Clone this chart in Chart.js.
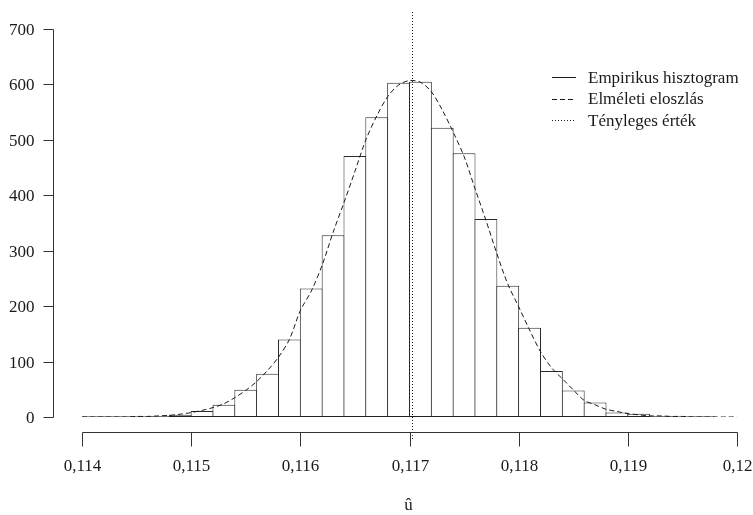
<!DOCTYPE html>
<html>
<head>
<meta charset="utf-8">
<script src="https://cdn.jsdelivr.net/npm/chart.js@4.4.0/dist/chart.umd.min.js"></script>
<style>
    html, body { margin: 0; padding: 0; background: #ffffff; }
    #wrap { width: 753px; height: 515px; position: relative; }
</style>
</head>
<body>
<div id="wrap"><canvas id="histChart"></canvas></div>
<script>
// histChart — simulated estimates of u-hat, histogram vs. theoretical density

/* ------------------------------
   DATA
--------------------------------*/
const binStart = 0.114;
const binWidth = 0.0002;
// counts per bin, 0.1140-0.1142, 0.1142-0.1144, ... up to 0.1198
const binCounts = [0, 0, 0, 1, 4, 11, 22, 49, 78, 140, 232, 328, 471, 541, 603,
                   605, 522, 476, 357, 237, 161, 83, 48, 26, 8, 6, 1, 0, 0];

// theoretical density (scaled to counts), read every 0.0001 from 0.1140 to 0.1200
const curveStart = 0.114;
const curveStep = 0.0001;
const curveValues = [0, 0, 0, 0, 0, 1, 1, 2, 3, 5,
                     8, 12, 17, 24, 35, 48, 64, 84, 108, 140,
                     192, 227, 274, 333, 387, 443, 500, 543, 578, 599,
                     607, 604, 587, 554, 514, 470, 412, 355, 295, 240,
                     199, 157, 118, 89, 69, 49, 30, 22, 14, 10,
                     6, 4, 2, 2, 1, 1, 0, 0, 0, 0, 0];

const trueValue = 0.11702;

const xTicks = [0.114, 0.115, 0.116, 0.117, 0.118, 0.119, 0.120];
const xTickLabels = ["0,114", "0,115", "0,116", "0,117", "0,118", "0,119", "0,12"];
const yTicks = [0, 100, 200, 300, 400, 500, 600, 700];
const xTitle = "\u00fb";

const legendLabels = ["Empirikus hisztogram", "Elméleti eloszlás", "Tényleges érték"];

/* ------------------------------
   build points for the library
--------------------------------*/
const barPoints = binCounts.map((c, i) => ({ x: binStart + (i + 0.5) * binWidth, y: c }));
const basePoints = [
    { x: binStart, y: 0 },
    { x: binStart + binCounts.length * binWidth, y: 0 }
];
const curvePoints = curveValues.map((v, i) => ({ x: curveStart + i * curveStep, y: v }));

const FONT = "17px 'Liberation Serif', 'DejaVu Serif', serif";
const INK = "#1a1a1a";

// R-style axes, detached from the plot region
const rAxesPlugin = {
    id: "rAxes",
    afterDatasetsDraw(chart) {
        const ctx = chart.ctx;
        const xs = chart.scales.x;
        // vertical dotted line at the true value
        const px = Math.round(xs.getPixelForValue(trueValue)) + 0.5;
        ctx.save();
        ctx.strokeStyle = INK;
        ctx.lineWidth = 1;
        ctx.setLineDash([1, 2]);
        ctx.beginPath();
        ctx.moveTo(px, 12);
        ctx.lineTo(px, 440);
        ctx.stroke();
        ctx.restore();
    },
    afterDraw(chart) {
        const ctx = chart.ctx;
        const xs = chart.scales.x;
        const ys = chart.scales.y;

        ctx.save();
        ctx.strokeStyle = "#333";
        ctx.fillStyle = INK;
        ctx.lineWidth = 1;
        ctx.font = FONT;

        // y axis
        const ax = 53.5;
        ctx.beginPath();
        ctx.moveTo(ax, Math.round(ys.getPixelForValue(yTicks[0])) + 0.5);
        ctx.lineTo(ax, Math.round(ys.getPixelForValue(yTicks[yTicks.length - 1])) + 0.5);
        ctx.stroke();
        ctx.textAlign = "right";
        ctx.textBaseline = "middle";
        yTicks.forEach(v => {
            const py = Math.round(ys.getPixelForValue(v)) + 0.5;
            ctx.beginPath();
            ctx.moveTo(ax, py);
            ctx.lineTo(ax - 10, py);
            ctx.stroke();
            ctx.fillText(String(v), ax - 19, py + 1);
        });

        // x axis
        const ay = 432.5;
        ctx.beginPath();
        ctx.moveTo(Math.round(xs.getPixelForValue(xTicks[0])) + 0.5, ay);
        ctx.lineTo(Math.round(xs.getPixelForValue(xTicks[xTicks.length - 1])) + 0.5, ay);
        ctx.stroke();
        ctx.textAlign = "center";
        ctx.textBaseline = "middle";
        xTicks.forEach((v, i) => {
            const px = Math.round(xs.getPixelForValue(v)) + 0.5;
            ctx.beginPath();
            ctx.moveTo(px, ay);
            ctx.lineTo(px, ay + 14);
            ctx.stroke();
            ctx.fillText(xTickLabels[i], px, 467);
        });
        ctx.fillText(xTitle, xs.getPixelForValue(0.117) - 1, 506);

        // legend
        const dashes = [[], [5, 3], [1, 2]];
        ctx.textAlign = "left";
        legendLabels.forEach((label, i) => {
            const ly = 77 + i * 21.5;
            ctx.setLineDash(dashes[i]);
            ctx.strokeStyle = INK;
            ctx.beginPath();
            ctx.moveTo(552, Math.round(ly) + 0.5);
            ctx.lineTo(576, Math.round(ly) + 0.5);
            ctx.stroke();
            ctx.setLineDash([]);
            ctx.fillText(label, 588, ly + 1.5);
        });
        ctx.restore();
    }
};

/* ------------------------------
   CHART
--------------------------------*/
const ctx = document.getElementById("histChart");

new Chart(ctx, {
    type: "bar",
    data: {
        datasets: [
            {
                type: "line",
                label: "Elméleti eloszlás",
                data: curvePoints,
                borderColor: INK,
                borderWidth: 1,
                borderDash: [5, 3],
                pointRadius: 0,
                tension: 0.3,
                order: 0
            },
            {
                type: "line",
                label: "baseline",
                data: basePoints,
                borderColor: INK,
                borderWidth: 1,
                pointRadius: 0,
                order: 1
            },
            {
                type: "bar",
                label: "Empirikus hisztogram",
                data: barPoints,
                backgroundColor: "#ffffff",
                borderColor: "#2a2a2a",
                borderWidth: 1,
                borderSkipped: false,
                barPercentage: 1.046,
                categoryPercentage: 1,
                order: 2
            }
        ]
    },
    options: {
        responsive: true,
        maintainAspectRatio: false,
        animation: false,
        layout: {
            padding: { left: 82, right: 16, top: 29, bottom: 98 }
        },
        plugins: {
            legend: { display: false },
            tooltip: { enabled: false }
        },
        scales: {
            x: { type: "linear", min: 0.114, max: 0.120, offset: false, display: false },
            y: { min: 0, max: 700, display: false }
        }
    },
    plugins: [rAxesPlugin]
});
</script>
</body>
</html>
